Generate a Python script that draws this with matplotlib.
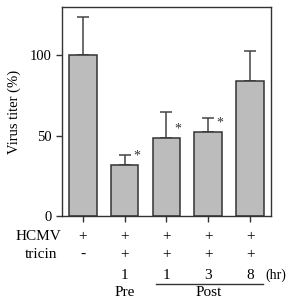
import matplotlib.pyplot as plt
import numpy as np

plt.rcParams['font.family'] = ['Liberation Serif', 'DejaVu Serif']

titer = [100, 32, 48.5, 52, 84]
err_up = [24, 6, 16, 9, 18.5]
signif = [False, True, True, True, False]
hcmv = ['+', '+', '+', '+', '+']
tricin = ['-', '+', '+', '+', '+']
hours = ['', '1', '1', '3', '8']

x = np.arange(len(titer))

fig = plt.figure(figsize=(2.88, 2.98), dpi=100)
ax = fig.add_axes([0.215, 0.275, 0.726, 0.702])

ax.bar(x, titer, width=0.66, color='#bcbcbc', edgecolor='#333333', linewidth=1.1, zorder=2)
ax.errorbar(x, titer, yerr=[np.zeros(len(titer)), err_up], fmt='none',
            ecolor='#444444', elinewidth=1.1, capsize=4, capthick=1.1, zorder=1)
for xi, v, s in zip(x, titer, signif):
    if s:
        ax.text(xi + 0.28, v + 1.5, '*', fontsize=10, ha='center', va='bottom', color='#333333')

ax.set_xlim(-0.5, 4.5)
ax.set_ylim(0, 130)
ax.set_yticks([0, 50, 100])
ax.set_xticks(x)
ax.set_xticklabels([])
ax.tick_params(axis='both', direction='out', length=4, width=1, labelsize=10.5, color='#333333')
ax.set_ylabel('Virus titer (%)', fontsize=10.5, labelpad=6)
for sp in ax.spines.values():
    sp.set_linewidth(1)
    sp.set_color('#333333')

# rows of conditions below the axis
tr = ax.get_xaxis_transform()
fs = 11
ax.text(-0.52, -0.098, 'HCMV', transform=tr, ha='right', va='center', fontsize=fs)
ax.text(-0.62, -0.185, 'tricin', transform=tr, ha='right', va='center', fontsize=fs)
for xi, a, b, h in zip(x, hcmv, tricin, hours):
    ax.text(xi, -0.098, a, transform=tr, ha='center', va='center', fontsize=fs)
    ax.text(xi, -0.185, b, transform=tr, ha='center', va='center', fontsize=fs)
    if h:
        ax.text(xi, -0.285, h, transform=tr, ha='center', va='center', fontsize=fs)
ax.text(4.37, -0.285, '(hr)', transform=tr, ha='left', va='center', fontsize=10)
ax.text(1, -0.365, 'Pre', transform=tr, ha='center', va='center', fontsize=fs)
ax.text(3, -0.365, 'Post', transform=tr, ha='center', va='center', fontsize=fs)
ax.plot([1.76, 4.32], [-0.325, -0.325], transform=tr, color='#333333', lw=1, clip_on=False)

fig.savefig('out.png', dpi=100)
